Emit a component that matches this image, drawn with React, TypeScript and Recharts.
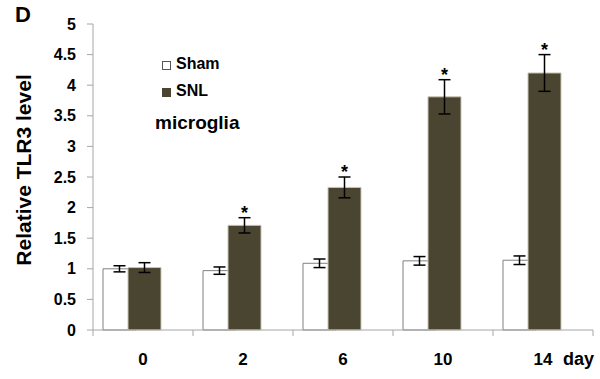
import React from 'react';
import { BarChart, Bar, XAxis, YAxis, ErrorBar, LabelList, Legend } from 'recharts';

const days = ['0', '2', '6', '10', '14'];
const shamValues = [1.0, 0.97, 1.09, 1.13, 1.14];
const shamErrors = [0.05, 0.06, 0.07, 0.07, 0.07];
const snlValues = [1.02, 1.71, 2.33, 3.81, 4.2];
const snlErrors = [0.08, 0.125, 0.17, 0.28, 0.3];
const snlSignificant = [false, true, true, true, true];
const yTicks = [0, 0.5, 1, 1.5, 2, 2.5, 3, 3.5, 4, 4.5, 5];

const data = days.map((day, i) => ({
  day,
  sham: shamValues[i],
  shamErr: shamErrors[i],
  snl: snlValues[i],
  snlErr: snlErrors[i],
  spacer: 0,
}));

const FONT = 'Arial, "Liberation Sans", sans-serif';
const AXIS_GREY = '#a6a6a6';
const SNL_FILL = '#4a4530';

const DayTick = (props: any) => {
  const { x, y, payload, index } = props;
  const half = payload.offset || 50;
  const isLast = index === days.length - 1;
  const textStyle = { fontFamily: FONT, fontWeight: 'bold' as const, fill: '#000' };
  return (
    <g>
      <line x1={x - half} x2={x - half} y1={y} y2={y + 6} stroke={AXIS_GREY} />
      {isLast && <line x1={x + half} x2={x + half} y1={y} y2={y + 6} stroke={AXIS_GREY} />}
      <text x={x} y={y + 35} textAnchor="middle" fontSize={17} {...textStyle}>
        {payload.value}
      </text>
      {isLast && (
        <text x={x + 20} y={y + 35} textAnchor="start" fontSize={18} {...textStyle}>
          day
        </text>
      )}
    </g>
  );
};

const renderYLabel = (props: any) => {
  const vb = props.viewBox;
  const cy = vb.y + vb.height / 2 - 7;
  return (
    <text
      x={31}
      y={cy}
      transform={`rotate(-90 31 ${cy})`}
      textAnchor="middle"
      fontFamily={FONT}
      fontWeight="bold"
      fontSize={21}
      fill="#000"
    >
      Relative TLR3 level
    </text>
  );
};

const renderStar = (props: any) => {
  const { x, y, width, height, value, index } = props;
  if (!snlSignificant[index]) return null;
  const pxPerUnit = height / value;
  const errTop = y - snlErrors[index] * pxPerUnit;
  return (
    <text
      x={x + width / 2}
      y={errTop + 1}
      textAnchor="middle"
      fontFamily={FONT}
      fontWeight="bold"
      fontSize={18}
      fill="#000"
    >
      *
    </text>
  );
};

const legendItems = [
  { label: 'Sham', fill: '#fff', border: '#555' },
  { label: 'SNL', fill: SNL_FILL, border: SNL_FILL },
];

const renderLegend = () => (
  <div style={{ fontFamily: FONT, fontWeight: 'bold', fontSize: 16, lineHeight: '16px', color: '#000' }}>
    {legendItems.map((item, i) => (
      <div key={item.label} style={{ display: 'flex', alignItems: 'center', height: 16, marginTop: i ? 11 : 0 }}>
        <span
          style={{
            display: 'inline-block',
            width: 7,
            height: 7,
            background: item.fill,
            border: `1px solid ${item.border}`,
            marginRight: 5,
            marginTop: 2,
          }}
        />
        <span>{item.label}</span>
      </div>
    ))}
  </div>
);

export default function App() {
  return (
    <div style={{ position: 'absolute', left: 0, top: 0, width: 600, height: 379, background: '#fff' }}>
      <BarChart
        width={600}
        height={379}
        data={data}
        barGap={-8}
        margin={{ top: 24, right: 7, left: 0, bottom: 0 }}
      >
        <XAxis
          dataKey="day"
          axisLine={{ stroke: AXIS_GREY }}
          tickLine={false}
          tickSize={0}
          tickMargin={0}
          tick={<DayTick />}
          interval={0}
          height={49}
        />
        <YAxis
          domain={[0, 5]}
          ticks={yTicks}
          interval={0}
          width={93}
          axisLine={{ stroke: AXIS_GREY }}
          tickLine={{ stroke: AXIS_GREY }}
          tickSize={6}
          tickMargin={11}
          tick={{ fill: '#000', fontSize: 16, fontWeight: 'bold', fontFamily: FONT }}
          label={{ value: 'Relative TLR3 level', content: renderYLabel }}
        />
        <Legend
          layout="vertical"
          align="center"
          verticalAlign="middle"
          content={renderLegend}
          wrapperStyle={{ left: 162, top: 56, width: 100 }}
        />
        <Bar dataKey="sham" name="Sham" fill="#fff" stroke="#808080" strokeWidth={1} barSize={33} isAnimationActive={false}>
          <ErrorBar dataKey="shamErr" width={6} stroke="#000" strokeWidth={1.5} direction="y" />
        </Bar>
        <Bar dataKey="snl" name="SNL" fill={SNL_FILL} stroke="#c9c6b4" strokeWidth={1} barSize={33} isAnimationActive={false}>
          <ErrorBar dataKey="snlErr" width={6} stroke="#000" strokeWidth={1.5} direction="y" />
          <LabelList dataKey="snl" content={renderStar} />
        </Bar>
        <Bar dataKey="spacer" fill="none" stroke="none" barSize={30} legendType="none" isAnimationActive={false} />
      </BarChart>
      <div
        style={{
          position: 'absolute',
          left: 15,
          top: 4,
          fontFamily: FONT,
          fontWeight: 'bold',
          fontSize: 22,
          lineHeight: '22px',
        }}
      >
        D
      </div>
      <div
        style={{
          position: 'absolute',
          left: 155,
          top: 113,
          fontFamily: FONT,
          fontWeight: 'bold',
          fontSize: 19,
          lineHeight: '19px',
        }}
      >
        microglia
      </div>
    </div>
  );
}
